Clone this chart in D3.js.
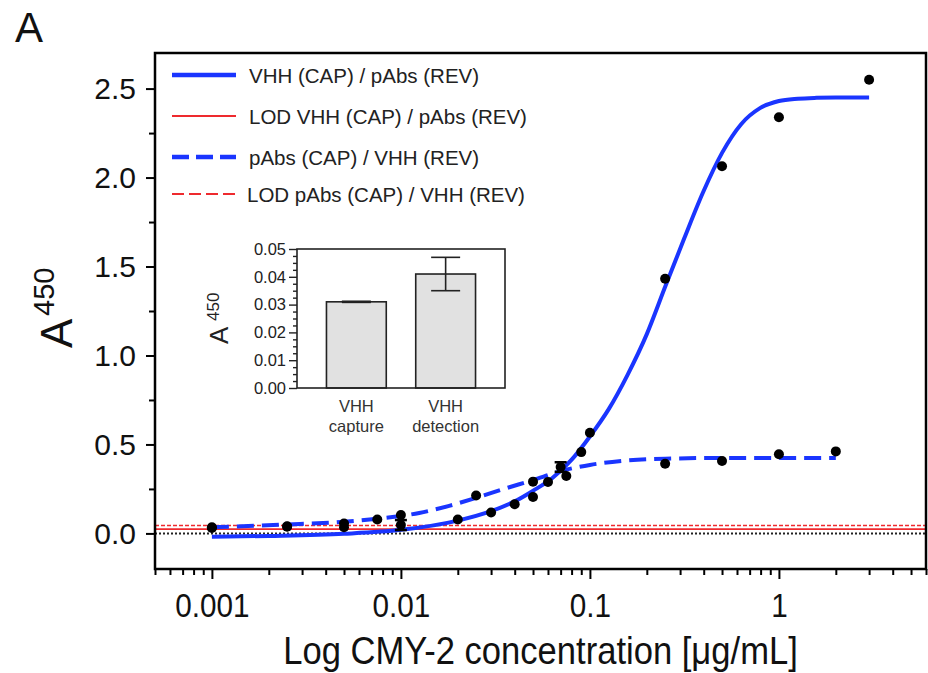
<!DOCTYPE html>
<html lang="en">
  <head>
    <meta charset="utf-8" />
    <title>CMY-2 sandwich ELISA</title>
    <script src="https://cdn.jsdelivr.net/npm/d3@7"></script>
    <style>
      body { margin: 0; background: #fff; }
      svg { display: block; font-family: "Liberation Sans", Arial, sans-serif; }
    </style>
  </head>
  <body>
    <script type="text/javascript">
      // values
      const concCap = [0.001, 0.0025, 0.005, 0.01, 0.02, 0.03, 0.04, 0.05, 0.06, 0.075, 0.09, 0.1, 0.25, 0.5, 1, 3];
      const absCap = [0.034, 0.037, 0.035, 0.047, 0.078, 0.118, 0.164, 0.205, 0.289, 0.323, 0.457, 0.566, 1.431, 2.064, 2.339, 2.55];
      const errCap = [0, 0, 0, 0.028, 0, 0, 0, 0, 0, 0, 0, 0, 0, 0, 0, 0];

      const concRev = [0.001, 0.0025, 0.005, 0.0075, 0.01, 0.025, 0.05, 0.07, 0.25, 0.5, 1, 2];
      const absRev = [0.03, 0.04, 0.056, 0.078, 0.103, 0.213, 0.291, 0.373, 0.392, 0.407, 0.445, 0.461];
      const errRev = [0, 0, 0, 0, 0, 0, 0, 0.027, 0, 0, 0, 0];

      // fitted curves
      const fitCapX = [0.001, 0.002, 0.005, 0.01, 0.02, 0.03, 0.04, 0.0501, 0.0631, 0.0794, 0.1, 0.126, 0.158, 0.2, 0.251, 0.316, 0.398, 0.501, 0.631, 0.794, 1, 1.26, 1.58, 2, 3];
      const fitCapY = [-0.019, -0.014, -0.002, 0.02, 0.072, 0.125, 0.18, 0.24, 0.31, 0.41, 0.545, 0.7, 0.89, 1.12, 1.39, 1.66, 1.92, 2.14, 2.3, 2.39, 2.43, 2.443, 2.448, 2.45, 2.45];
      const fitRevX = [0.001, 0.0025, 0.005, 0.0075, 0.01, 0.0125, 0.018, 0.025, 0.035, 0.05, 0.07, 0.1, 0.15, 0.25, 0.5, 1, 2];
      const fitRevY = [0.035, 0.05, 0.066, 0.083, 0.098, 0.115, 0.155, 0.2, 0.25, 0.3, 0.35, 0.385, 0.408, 0.42, 0.424, 0.424, 0.424];

      const lodCap = 0.024;
      const lodRev = 0.045;

      const xTicks = [0.001, 0.01, 0.1, 1];
      const xTickLabels = ["0.001", "0.01", "0.1", "1"];
      const yTicks = [0, 0.5, 1, 1.5, 2, 2.5];
      const yMinor = [0.25, 0.75, 1.25, 1.75, 2.25];

      const legendLabels = [
        "VHH (CAP) / pAbs (REV)",
        "LOD VHH (CAP) / pAbs (REV)",
        "pAbs (CAP) / VHH (REV)",
        "LOD pAbs (CAP) / VHH (REV)",
      ];

      const insetCats = ["capture", "detection"];
      const insetVals = [0.031, 0.041];
      const insetErr = [0.0002, 0.006];
      const insetTicks = [0, 0.01, 0.02, 0.03, 0.04, 0.05];

      const w = 928;
      const h = 673;
      const pLeft = 155, pRight = 926, pTop = 53, pBottom = 569;
      const blue = "#1a35ff";
      const red = "#ee2a2e";

      let svg = d3.select("body").append("svg").attr("width", w).attr("height", h);

      let x = d3.scaleLog().domain([0.0005, 6]).range([pLeft, pRight]);
      let y = d3.scaleLinear().domain([-0.2, 2.7]).range([pBottom, pTop]);

      // reference lines
      svg.append("line")
        .attr("x1", pLeft).attr("x2", pRight)
        .attr("y1", y(0)).attr("y2", y(0))
        .attr("stroke", "#222").attr("stroke-width", 2).attr("stroke-dasharray", "2,2");
      svg.append("line")
        .attr("x1", pLeft).attr("x2", pRight)
        .attr("y1", y(lodCap)).attr("y2", y(lodCap))
        .attr("stroke", red).attr("stroke-width", 1.6);
      svg.append("line")
        .attr("x1", pLeft).attr("x2", pRight)
        .attr("y1", y(lodRev)).attr("y2", y(lodRev))
        .attr("stroke", red).attr("stroke-width", 1.5).attr("stroke-dasharray", "4,2");

      let line = d3.line()
        .x((d) => x(d[0]))
        .y((d) => y(d[1]))
        .curve(d3.curveMonotoneX);

      svg.append("path")
        .attr("d", line(d3.zip(fitCapX, fitCapY)))
        .attr("fill", "none").attr("stroke", blue).attr("stroke-width", 4);
      svg.append("path")
        .attr("d", line(d3.zip(fitRevX, fitRevY)))
        .attr("fill", "none").attr("stroke", blue).attr("stroke-width", 4)
        .attr("stroke-dasharray", "17,8");

      let points = d3.zip(concCap, absCap, errCap).concat(d3.zip(concRev, absRev, errRev));

      // error bars
      let eb = svg.append("g").attr("stroke", "#000").attr("stroke-width", 2.5);
      points.filter((d) => d[2] > 0).forEach((d) => {
        let cx = x(d[0]);
        eb.append("line").attr("x1", cx).attr("x2", cx)
          .attr("y1", y(d[1] - d[2])).attr("y2", y(d[1] + d[2]));
        [d[1] - d[2], d[1] + d[2]].forEach((v) => {
          eb.append("line").attr("x1", cx - 6).attr("x2", cx + 6)
            .attr("y1", y(v)).attr("y2", y(v));
        });
      });

      svg.append("g")
        .selectAll("circle")
        .data(points)
        .enter()
        .append("circle")
        .attr("cx", (d) => x(d[0]))
        .attr("cy", (d) => y(d[1]))
        .attr("r", 5)
        .attr("fill", "#000");

      // frame
      svg.append("rect")
        .attr("x", pLeft).attr("y", pTop)
        .attr("width", pRight - pLeft).attr("height", pBottom - pTop)
        .attr("fill", "none").attr("stroke", "#000").attr("stroke-width", 2.5);

      // x axis
      let xMinor = x.ticks().filter((t) => xTicks.indexOf(t) < 0);
      let gxMinor = svg.append("g")
        .attr("transform", "translate(0," + pBottom + ")")
        .call(d3.axisBottom(x).tickValues(xMinor).tickSize(6).tickFormat(""));
      let gx = svg.append("g")
        .attr("transform", "translate(0," + pBottom + ")")
        .call(d3.axisBottom(x).tickValues(xTicks).tickSize(10).tickPadding(15)
          .tickFormat((d, i) => xTickLabels[i]));
      gx.selectAll("text")
        .attr("font-size", 33).attr("fill", "#111")
        .attr("transform", "scale(0.9,1)");

      // y axis
      let gyMinor = svg.append("g")
        .attr("transform", "translate(" + pLeft + ",0)")
        .call(d3.axisLeft(y).tickValues(yMinor).tickSize(6).tickFormat(""));
      let gy = svg.append("g")
        .attr("transform", "translate(" + pLeft + ",0)")
        .call(d3.axisLeft(y).tickValues(yTicks).tickSize(9).tickPadding(10)
          .tickFormat(d3.format(".1f")));
      gy.selectAll("text").attr("font-size", 30).attr("fill", "#111");

      [gx, gxMinor, gy, gyMinor].forEach((g) => {
        g.select(".domain").remove();
        g.selectAll("line").attr("stroke", "#000").attr("stroke-width", 2);
      });

      // axis titles
      svg.append("text")
        .attr("transform", "translate(" + (pLeft + pRight) / 2 + ",664) scale(0.91,1)")
        .attr("text-anchor", "middle")
        .attr("font-size", 38)
        .attr("fill", "#111")
        .text("Log CMY-2 concentration [\u03bcg/mL]");

      let ylab = svg.append("g").attr("transform", "rotate(-90)").attr("fill", "#111");
      ylab.append("text").attr("x", -348).attr("y", 72).attr("font-size", 44).text("A");
      ylab.append("text").attr("x", -316).attr("y", 54).attr("font-size", 29).text("450");

      svg.append("text")
        .attr("x", 15).attr("y", 42)
        .attr("font-size", 42).attr("fill", "#111")
        .text("A");

      // legend
      const legendY = [75, 116, 157, 194];
      const legendStyle = [
        { c: blue, sw: 4.5, dash: null },
        { c: red, sw: 2.2, dash: null },
        { c: blue, sw: 4.5, dash: "17,7" },
        { c: red, sw: 2.2, dash: "12,5" },
      ];
      let lg = svg.append("g");
      legendLabels.forEach((lab, i) => {
        lg.append("line")
          .attr("x1", 172).attr("x2", 236)
          .attr("y1", legendY[i]).attr("y2", legendY[i])
          .attr("stroke", legendStyle[i].c)
          .attr("stroke-width", legendStyle[i].sw)
          .attr("stroke-dasharray", legendStyle[i].dash);
        lg.append("text")
          .attr("x", i == 3 ? 247 : 249)
          .attr("y", legendY[i] + 7.5)
          .attr("font-size", 20.5)
          .attr("fill", "#222")
          .text(lab);
      });

      // inset bar chart
      let ix = d3.scaleBand().domain(insetCats).range([297, 505])
        .paddingInner(0.33).paddingOuter(0.33);
      let iy = d3.scaleLinear().domain([0, 0.05]).range([388, 249]);
      let inset = svg.append("g");

      inset.selectAll("rect.bar")
        .data(insetVals)
        .enter()
        .append("rect")
        .attr("class", "bar")
        .attr("x", (d, i) => ix(insetCats[i]))
        .attr("y", (d) => iy(d))
        .attr("width", ix.bandwidth())
        .attr("height", (d) => iy(0) - iy(d))
        .attr("fill", "#e1e1e1")
        .attr("stroke", "#222")
        .attr("stroke-width", 1.6);

      insetVals.forEach((v, i) => {
        let cx = ix(insetCats[i]) + ix.bandwidth() / 2;
        let e = inset.append("g").attr("stroke", "#222").attr("stroke-width", 1.6);
        e.append("line").attr("x1", cx).attr("x2", cx)
          .attr("y1", iy(v - insetErr[i])).attr("y2", iy(v + insetErr[i]));
        [v - insetErr[i], v + insetErr[i]].forEach((t) => {
          e.append("line").attr("x1", cx - 14.5).attr("x2", cx + 14.5)
            .attr("y1", iy(t)).attr("y2", iy(t));
        });
      });

      inset.append("rect")
        .attr("x", 297).attr("y", 249)
        .attr("width", 505 - 297).attr("height", 388 - 249)
        .attr("fill", "none").attr("stroke", "#222").attr("stroke-width", 1.6);

      let iyMinor = d3.range(0.0025, 0.05, 0.0025).filter((t, i) => i % 4 != 3);
      let giMinor = inset.append("g").attr("transform", "translate(297,0)")
        .call(d3.axisLeft(iy).tickValues(iyMinor).tickSize(4).tickFormat(""));
      let gi = inset.append("g").attr("transform", "translate(297,0)")
        .call(d3.axisLeft(iy).tickValues(insetTicks).tickSize(8).tickPadding(3)
          .tickFormat(d3.format(".2f")));
      gi.selectAll("text").attr("font-size", 16.5).attr("fill", "#222");
      [gi, giMinor].forEach((g) => {
        g.select(".domain").remove();
        g.selectAll("line").attr("stroke", "#222").attr("stroke-width", 1.4);
      });

      insetCats.forEach((c) => {
        let cx = ix(c) + ix.bandwidth() / 2;
        let t = inset.append("text")
          .attr("text-anchor", "middle").attr("font-size", 16.5).attr("fill", "#333");
        t.append("tspan").attr("x", cx).attr("y", 411.5).text("VHH");
        t.append("tspan").attr("x", cx).attr("y", 431.5).text(c);
      });

      let iylab = inset.append("g").attr("transform", "rotate(-90)").attr("fill", "#222");
      iylab.append("text").attr("x", -344).attr("y", 228).attr("font-size", 26).text("A");
      iylab.append("text").attr("x", -321).attr("y", 219).attr("font-size", 17).text("450");
    </script>
  </body>
</html>
